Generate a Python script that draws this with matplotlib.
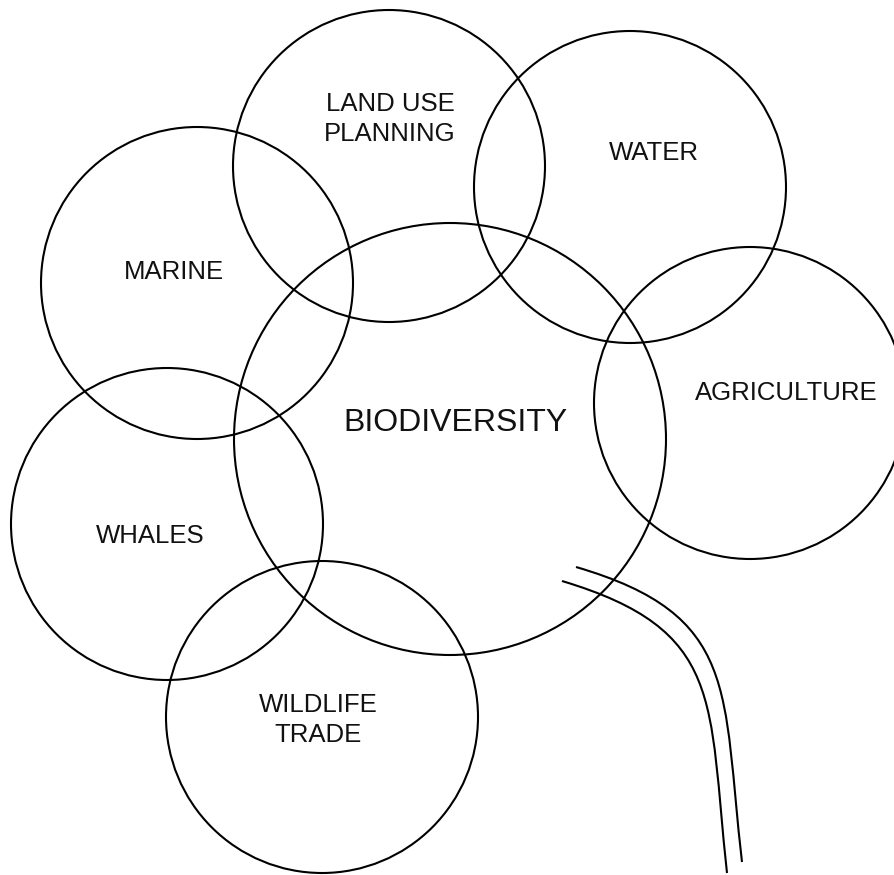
import matplotlib
matplotlib.use("Agg")
import matplotlib.pyplot as plt
from matplotlib.patches import Circle, PathPatch
from matplotlib.path import Path

plt.rcParams['font.family'] = ['Liberation Sans', 'DejaVu Sans']

# circles: centre x, centre y, radius (pixel space, y down)
names = ["BIODIVERSITY", "LAND USE\nPLANNING", "WATER", "MARINE",
         "AGRICULTURE", "WHALES", "WILDLIFE\nTRADE"]
cx = [450, 389, 630, 197, 750, 167, 322]
cy = [439, 166, 187, 283, 403, 524, 717]
rad = [216, 156, 156, 156, 156, 156, 156]

# label positions
lx = [455, 390, 654, 174, 786, 150, 318]
ly = [423, 119, 153, 272, 393, 536, 720]
fsize = [23, 18.5, 18.5, 18.5, 18.5, 18.5, 18.5]

# stem: two curves, one cubic each
stem_outer = [(576, 567), (740, 615), (722, 690), (742, 862)]
stem_inner = [(562, 581), (725, 630), (708, 700), (727, 873)]

fig = plt.figure(figsize=(8.95, 8.75), dpi=100)
ax = fig.add_axes([0, 0, 1, 1])
ax.set_xlim(0, 895)
ax.set_ylim(875, 0)
ax.set_aspect('equal')
ax.axis('off')

for x, y, r in zip(cx, cy, rad):
    ax.add_patch(Circle((x, y), r, fill=False, edgecolor='black', lw=1.5))

for name, x, y, fs in zip(names, lx, ly, fsize):
    ax.text(x, y, name, ha='center', va='center', fontsize=fs,
            color='#111111', linespacing=1.35)

codes = [Path.MOVETO] + [Path.CURVE4] * 3
for pts in (stem_outer, stem_inner):
    ax.add_patch(PathPatch(Path(pts, codes), fill=False, edgecolor='black', lw=1.5))

fig.savefig("out.png", dpi=100)
